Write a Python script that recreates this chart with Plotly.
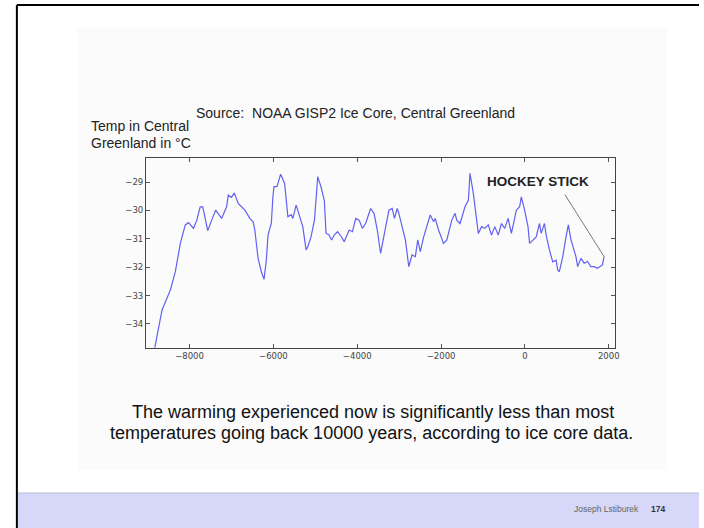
import plotly.graph_objects as go

# ---- data ----
years = [-8829, -8656, -8457, -8339, -8220, -8102, -8024, -7905, -7827, -7746, -7685, -7590, -7566,
         -7472, -7377, -7235, -7116, -7076, -6998, -6934, -6839, -6680, -6562, -6483, -6443, -6365,
         -6287, -6223, -6168, -6128, -6050, -6010, -5986, -5915, -5827, -5732, -5694, -5654, -5575,
         -5536, -5457, -5417, -5299, -5220, -5180, -5102, -5021, -4983, -4943, -4865, -4784, -4744,
         -4680, -4611, -4540, -4469, -4391, -4310, -4192, -4114, -4036, -3955, -3877, -3798, -3680,
         -3599, -3521, -3443, -3363, -3244, -3166, -3111, -3047, -3007, -2851, -2770, -2692, -2614,
         -2557, -2495, -2415, -2336, -2258, -2178, -2140, -2059, -1941, -1863, -1744, -1666, -1626,
         -1547, -1429, -1348, -1310, -1230, -1199, -1152, -1111, -1033, -955, -874, -796, -718,
         -637, -559, -481, -400, -322, -244, -204, -126, -85, -7, 74, 112, 192, 270, 348, 389,
         467, 507, 585, 664, 744, 784, 822, 903, 981, 1036, 1100, 1178, 1218, 1258, 1336, 1415,
         1495, 1573, 1652, 1732, 1810, 1851, 1889]
temps = [-34.84, -33.51, -32.80, -32.16, -31.16, -30.51, -30.43, -30.63, -30.34, -29.87, -29.87, -30.51, -30.71,
         -30.34, -29.99, -30.28, -29.87, -29.46, -29.54, -29.38, -29.75, -29.99, -30.28, -30.40, -30.69, -31.69,
         -32.16, -32.43, -31.75, -30.87, -30.46, -29.50, -29.16, -29.16, -28.72, -29.05, -29.63, -30.22, -30.15,
         -30.28, -29.81, -29.99, -30.57, -31.39, -31.28, -30.93, -30.34, -29.63, -28.81, -29.16, -29.66, -30.81,
         -30.85, -31.04, -30.85, -30.75, -30.90, -31.10, -30.69, -30.75, -30.28, -30.34, -30.63, -30.45, -29.93,
         -30.10, -30.69, -31.51, -30.93, -29.99, -29.93, -30.28, -29.93, -30.10, -31.04, -31.98, -31.57, -31.63,
         -31.04, -31.45, -30.93, -30.57, -30.16, -30.40, -30.28, -30.69, -31.16, -31.04, -30.34, -30.10, -30.34,
         -30.46, -29.87, -29.63, -28.69, -29.40, -29.75, -30.30, -30.81, -30.57, -30.63, -30.51, -30.87, -30.57,
         -30.87, -30.46, -30.63, -30.28, -30.81, -30.28, -29.99, -29.87, -29.52, -29.99, -30.57, -31.16, -31.04, -30.93, -30.46, -30.81,
         -30.46, -30.87, -31.39, -31.81, -31.75, -32.10, -32.16, -31.63, -30.93, -30.51, -31.04, -31.39, -31.63, -31.98, -31.69, -31.86,
         -31.80, -31.98, -31.98, -32.04, -31.98, -31.92, -31.63]

x_tickvals = [-8000, -6000, -4000, -2000, 0, 2000]
x_ticktext = ["\u22128000", "\u22126000", "\u22124000", "\u22122000", "0", "2000"]
y_tickvals = [-34, -33, -32, -31, -30, -29]
y_ticktext = ["\u221234", "\u221233", "\u221232", "\u221231", "\u221230", "\u221229"]

arrow_tip = (1889, -31.63)
arrow_tail = (933, -29.39)

W, H = 704, 528
def px(x):
    return x / W
def py(y):
    return 1 - y / H

fig = go.Figure()
fig.add_trace(go.Scatter(x=years, y=temps, mode="lines",
                         line=dict(color="#6060f2", width=1.2), showlegend=False,
                         hoverinfo="skip"))

axis_common = dict(showgrid=False, zeroline=False, showline=True, linecolor="#444444",
                   linewidth=1, mirror="allticks", ticks="inside", ticklen=4,
                   tickcolor="#555555", tickfont=dict(family="DejaVu Sans", size=8.5, color="#444444"))

fig.update_layout(
    width=W, height=H, margin=dict(l=0, r=0, t=0, b=0),
    paper_bgcolor="white", plot_bgcolor="white",
    xaxis=dict(domain=[px(147), px(619)], range=[-9040, 2140],
               tickvals=x_tickvals, ticktext=x_ticktext, **axis_common),
    yaxis=dict(domain=[py(348), py(158)], range=[-34.85, -28.15],
               tickvals=y_tickvals, ticktext=y_ticktext, **axis_common),
    font=dict(family="Liberation Sans"),
)

shapes = [
    dict(type="rect", xref="paper", yref="paper", x0=px(78), x1=px(672), y0=py(470), y1=py(28),
         fillcolor="#fbfbfb", line=dict(width=0), layer="below"),
    dict(type="rect", xref="paper", yref="paper", x0=px(18), x1=1, y0=0, y1=py(493),
         fillcolor="#d7d7f9", line=dict(width=0), layer="below"),
    dict(type="line", xref="paper", yref="paper", x0=px(18), x1=1, y0=py(493), y1=py(493),
         line=dict(color="#b8b8d8", width=1)),
    dict(type="line", xref="paper", yref="paper", x0=px(17), x1=1, y0=py(5), y1=py(5),
         line=dict(color="black", width=2)),
    dict(type="line", xref="paper", yref="paper", x0=px(17), x1=px(17), y0=0, y1=py(5),
         line=dict(color="black", width=2)),
]
fig.update_layout(shapes=shapes)

def txt(text, x, y, size, color="#222222", xanchor="center"):
    return dict(text=text, x=px(x), y=py(y), xref="paper", yref="paper", showarrow=False,
                xanchor=xanchor, yanchor="middle", font=dict(size=size, color=color))

ann = [
    txt("Source:  NOAA GISP2 Ice Core, Central Greenland", 358, 113, 14),
    txt("Temp in Central", 90, 126, 14, xanchor="left"),
    txt("Greenland in \u00b0C", 90, 143, 14, xanchor="left"),
    txt("<b>HOCKEY STICK</b>", 542, 181, 13.5),
    dict(text="", x=arrow_tip[0], y=arrow_tip[1], xref="x", yref="y",
         ax=arrow_tail[0], ay=arrow_tail[1], axref="x", ayref="y",
         showarrow=True, arrowhead=0, arrowwidth=1, arrowcolor="#777777"),
    txt("The warming experienced now is significantly less than most", 376, 412, 18, "#111111"),
    txt("temperatures going back 10000 years, according to ice core data.", 374, 433, 18, "#111111"),
    txt("Joseph Lstiburek", 646, 509, 8.5, "#666666", xanchor="right"),
    txt("<b>174</b>", 654, 509, 8.5, "#333333", xanchor="left"),
]
fig.update_layout(annotations=ann)

fig.write_html("out.html", config={"displayModeBar": False, "staticPlot": True},
               post_script="document.body.style.margin='0';document.body.style.padding='0';")
